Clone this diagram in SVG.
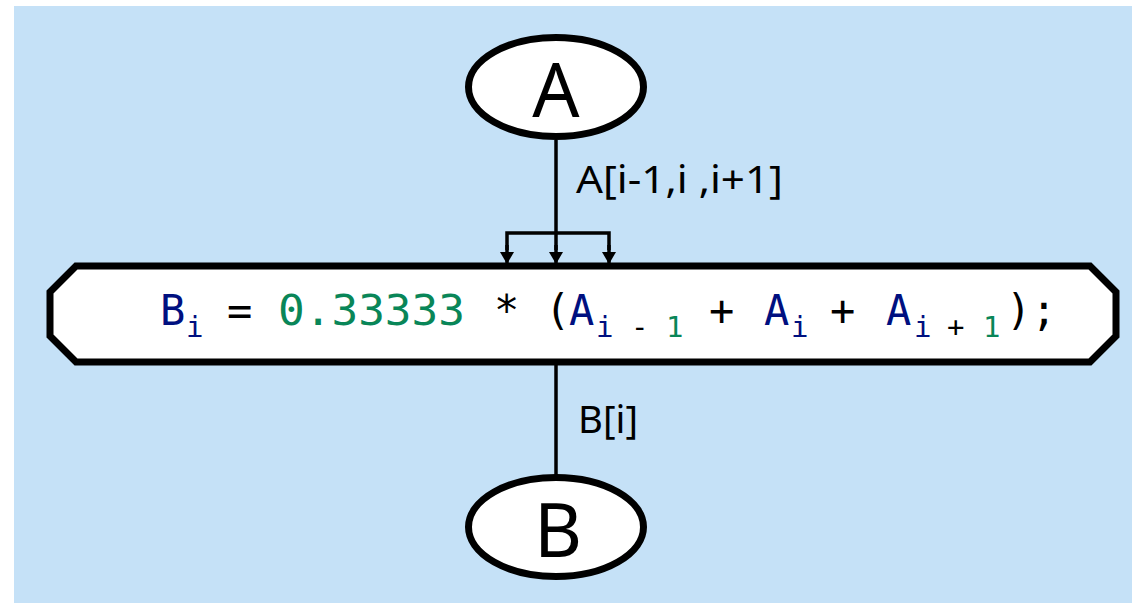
<svg xmlns="http://www.w3.org/2000/svg" width="1132" height="603" viewBox="0 0 1132 603">
<defs>
<style>
.node{fill:#fff;stroke:#000;stroke-width:7}
.big{font-family:"Noto Sans","Open Sans",sans-serif;font-size:74px;fill:#000;text-anchor:middle}
.lbl{font-family:"Noto Sans","Open Sans",sans-serif;font-size:38px;fill:#000}
.conn{stroke:#000;stroke-width:3.5;fill:none}
.code{font-family:"DejaVu Sans Mono",monospace;font-size:42px}
.sub{font-family:"DejaVu Sans Mono",monospace;font-size:29px}
.v{fill:#001080}.n{fill:#098658}.k{fill:#000}
</style>
<marker id="ah" markerWidth="14" markerHeight="14" refX="12" refY="7" orient="auto" markerUnits="userSpaceOnUse" viewBox="0 0 14 14">
<path d="M0,0 L12,7 L0,14 Z" fill="#000"/>
</marker>
</defs>
<rect x="14" y="6" width="1118" height="597" fill="#c5e1f7"/>
<g id="connectors">
<line class="conn" x1="556" y1="140" x2="556" y2="250"/>
<polyline class="conn" points="507,250 507,233 609,233 609,250"/>
<line class="conn" x1="507" y1="245" x2="507" y2="264" marker-end="url(#ah)"/>
<line class="conn" x1="556" y1="245" x2="556" y2="264" marker-end="url(#ah)"/>
<line class="conn" x1="609" y1="245" x2="609" y2="264" marker-end="url(#ah)"/>
<text class="lbl" x="576" y="193" textLength="207" lengthAdjust="spacingAndGlyphs">A[i-1,i ,i+1]</text>
<line class="conn" x1="556" y1="362" x2="556" y2="475"/>
<text class="lbl" x="578" y="433" textLength="60" lengthAdjust="spacingAndGlyphs">B[i]</text>
</g>
<g id="nodeA">
<ellipse class="node" cx="556" cy="87" rx="87.5" ry="49.5"/>
<text class="big" x="556" y="117">A</text>
</g>
<g id="nodeCompute">
<polygon class="node" points="76,266 1090,266 1116,292 1116,336 1090,362 76,362 50,336 50,292" stroke-width="6"/>
<text class="code v" x="160" y="325">B</text>
<text class="sub v" x="186" y="337">i</text>
<text class="code k" x="227" y="325">=</text>
<text class="code n" x="278" y="325" textLength="187" lengthAdjust="spacingAndGlyphs">0.33333</text>
<text class="code k" x="494" y="325">*</text>
<text class="code k" x="545" y="325">(</text>
<text class="code v" x="569" y="325">A</text>
<text class="sub v" x="596" y="337">i</text>
<text class="sub k" x="631" y="337">-</text>
<text class="sub n" x="666" y="337">1</text>
<text class="code k" x="709" y="325">+</text>
<text class="code v" x="764" y="325">A</text>
<text class="sub v" x="791" y="337">i</text>
<text class="code k" x="830" y="325">+</text>
<text class="code v" x="886" y="325">A</text>
<text class="sub v" x="914" y="337">i</text>
<text class="sub k" x="947" y="337">+</text>
<text class="sub n" x="983" y="337">1</text>
<text class="code k" x="1006" y="325">);</text>
</g>
<g id="nodeB">
<ellipse class="node" cx="556" cy="527" rx="87.5" ry="49.5"/>
<text class="big" x="558" y="557">B</text>
</g>
</svg>
